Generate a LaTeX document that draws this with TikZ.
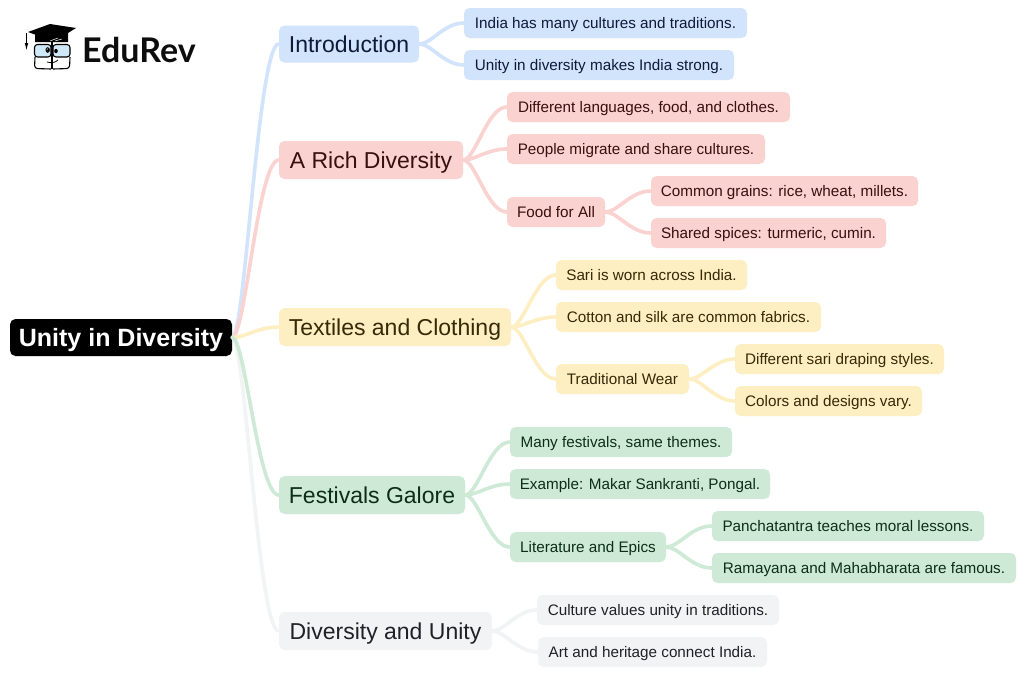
\documentclass[tikz,border=0pt]{standalone}
\usepackage{fontspec}
\setmainfont{Liberation Sans}
\newfontfamily\logofont{Lato}
\usetikzlibrary{calc}
\definecolor{bluefill}{HTML}{D2E3FC}\definecolor{bluetext}{HTML}{0E1A3A}
\definecolor{redfill}{HTML}{FAD2CF}\definecolor{redtext}{HTML}{3A0F0C}
\definecolor{yellowfill}{HTML}{FEEFC3}\definecolor{yellowtext}{HTML}{352A06}
\definecolor{greenfill}{HTML}{CEEAD6}\definecolor{greentext}{HTML}{0C2E18}
\definecolor{greyfill}{HTML}{F1F3F4}\definecolor{greytext}{HTML}{202124}
\definecolor{capblue}{HTML}{CFE8F8}
\tikzset{
  box/.style={inner sep=0pt,rounded corners=5.5pt,align=center},
  rootbox/.style={box,fill=black,text=white,text height=24pt,text depth=6pt,font=\fontsize{25}{30}\selectfont\bfseries},
  mainbox/.style={box,text height=21pt,text depth=5pt,font=\fontsize{23}{28}\selectfont},
  leafbox/.style={box,text height=13pt,text depth=3pt,font=\fontsize{15.25}{18}\selectfont},
  bluebox/.style={fill=bluefill,text=bluetext},
  redbox/.style={fill=redfill,text=redtext},
  yellowbox/.style={fill=yellowfill,text=yellowtext},
  greenbox/.style={fill=greenfill,text=greentext},
  greybox/.style={fill=greyfill,text=greytext},
  link/.style={line width=3.6pt,line cap=round},
  logoline/.style={line width=1.1pt,line join=round}
}
% \bx{style}{name}{x1}{y1}{x2}{y2}{text}
\newcommand{\bx}[7]{\node[#1,minimum width=#5pt-#3pt,minimum height=#6pt-#4pt] (#2) at ({(#3+#5)/2},{(#4+#6)/2}) {#7};}
% \lk{colour}{from}{to}
\newcommand{\lk}[3]{\draw[link,#1] (#2.east) .. controls ($(#2.east)!0.28!(#3.west|-#2.east)$) and ($(#2.east|-#3.west)!0.55!(#3.west)$) .. (#3.west);}
\begin{document}
\begin{tikzpicture}[x=1pt,y=-1pt]
\useasboundingbox (0,0) rectangle (1024,675);
\fill[white] (0,0) rectangle (1024,675);

\bx{rootbox}{root}{10}{319}{232}{356}{Unity in Diversity}
\bx{mainbox,bluebox}{intro}{279}{25.5}{419}{62.5}{Introduction}
\bx{mainbox,redbox}{rich}{279}{141}{463}{179}{A Rich Diversity}
\bx{mainbox,yellowbox}{textiles}{279}{308}{511}{346}{Textiles and Clothing}
\bx{mainbox,greenbox}{fest}{279}{476}{465}{514}{Festivals Galore}
\bx{mainbox,greybox}{divun}{279}{612}{492}{650}{Diversity and Unity}

\bx{leafbox,bluebox}{a1}{464}{8}{747}{38}{India has many cultures and traditions.}
\bx{leafbox,bluebox}{a2}{464}{50}{734}{80}{Unity in diversity makes India strong.}
\bx{leafbox,redbox}{b1}{507}{92}{790}{122}{Different languages, food, and clothes.}
\bx{leafbox,redbox}{b2}{507}{134}{765}{164}{People migrate and share cultures.}
\bx{leafbox,redbox}{b3}{507}{197}{605}{227}{Food for All}
\bx{leafbox,redbox}{b4}{651}{176}{918}{206}{Common grains: rice, wheat, millets.}
\bx{leafbox,redbox}{b5}{651}{218}{886}{248}{Shared spices: turmeric, cumin.}
\bx{leafbox,yellowbox}{c1}{556}{260}{747}{290}{Sari is worn across India.}
\bx{leafbox,yellowbox}{c2}{556}{302}{821}{332}{Cotton and silk are common fabrics.}
\bx{leafbox,yellowbox}{c3}{556}{364}{689}{394}{Traditional Wear}
\bx{leafbox,yellowbox}{c4}{735}{344}{944}{374}{Different sari draping styles.}
\bx{leafbox,yellowbox}{c5}{735}{386}{922}{416}{Colors and designs vary.}
\bx{leafbox,greenbox}{d1}{510}{427}{732}{457}{Many festivals, same themes.}
\bx{leafbox,greenbox}{d2}{510}{469}{770}{499}{Example: Makar Sankranti, Pongal.}
\bx{leafbox,greenbox}{d3}{510}{532}{666}{562}{Literature and Epics}
\bx{leafbox,greenbox}{d4}{712}{511}{984}{541}{Panchatantra teaches moral lessons.}
\bx{leafbox,greenbox}{d5}{712}{553}{1016}{583}{Ramayana and Mahabharata are famous.}
\bx{leafbox,greybox}{e1}{537}{595}{779}{625}{Culture values unity in traditions.}
\bx{leafbox,greybox}{e2}{538}{637}{767}{667}{Art and heritage connect India.}

\lk{bluefill}{root}{intro}
\lk{redfill}{root}{rich}
\lk{yellowfill}{root}{textiles}
\lk{greyfill}{root}{divun}
\lk{greenfill}{root}{fest}
\lk{bluefill}{intro}{a1}\lk{bluefill}{intro}{a2}
\lk{redfill}{rich}{b1}\lk{redfill}{rich}{b2}\lk{redfill}{rich}{b3}
\lk{redfill}{b3}{b4}\lk{redfill}{b3}{b5}
\lk{yellowfill}{textiles}{c1}\lk{yellowfill}{textiles}{c2}\lk{yellowfill}{textiles}{c3}
\lk{yellowfill}{c3}{c4}\lk{yellowfill}{c3}{c5}
\lk{greenfill}{fest}{d1}\lk{greenfill}{fest}{d2}\lk{greenfill}{fest}{d3}
\lk{greenfill}{d3}{d4}\lk{greenfill}{d3}{d5}
\lk{greyfill}{divun}{e1}\lk{greyfill}{divun}{e2}

% logo
\node[anchor=base west,inner sep=0pt,font=\logofont\fontsize{34}{36}\selectfont\bfseries,text=black!95] (logo) at (82,62.5) {EduRev};
% body
\draw[logoline,rounded corners=3pt] (35,57) -- (34.5,68.5) -- (51,69) (53,69) -- (69.5,68.5) -- (70,57);
\draw[logoline] (52,42) -- (52,69);
% glasses
\fill[capblue,draw=black,logoline,rounded corners=3pt] (34.5,44.5) rectangle (51,57);
\fill[capblue,draw=black,logoline,rounded corners=3pt] (53,44.5) rectangle (70,57);
% cap
\fill[black] (28,32) -- (50,24) -- (76,28) -- (68,33) -- (68,42) -- (35,42) -- (35,34.5) -- cycle;
\draw[white,line width=0.5pt] (50,41) -- (58,38) (55,41) -- (62,39);
% tassel
\draw[line width=1.1pt,black] (26.5,33) -- (26.5,44);
\fill[black] (24.8,43) -- (28.2,43) -- (26.5,49.5) -- cycle;
% eyes and smile
\fill[black] (47.7,50) ellipse (2.2pt and 2.8pt);
\fill[black] (56,51) ellipse (1.8pt and 2.2pt);
\fill[white] (47.2,49) circle (0.7pt);
\draw[line width=0.8pt] (47,62) .. controls (51,63) and (55,63) .. (58,60);
\end{tikzpicture}
\end{document}
